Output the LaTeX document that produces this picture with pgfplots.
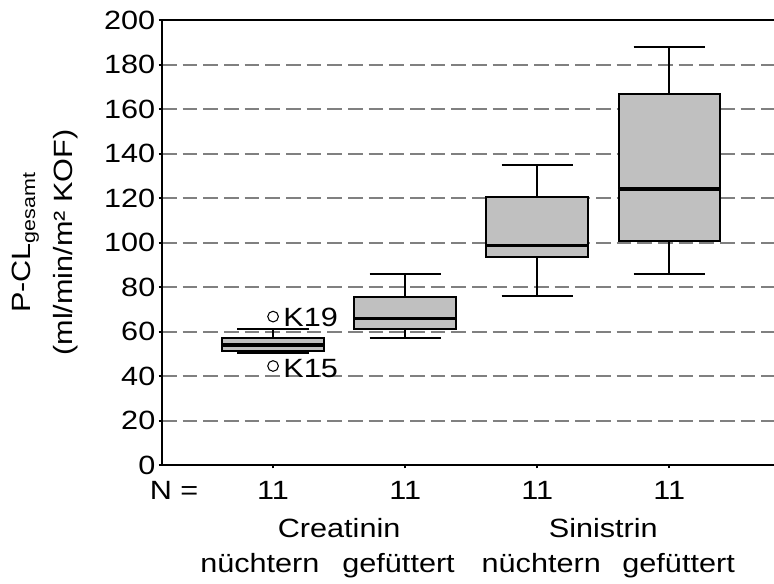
\documentclass[border=0pt]{standalone}
\usepackage{fontspec}
\setmainfont[FakeStretch=1.16]{Liberation Sans}
\usepackage{pgfplots}
\pgfplotsset{compat=1.18}
\usepgfplotslibrary{statistics}
\definecolor{boxgray}{HTML}{C0C0C0}
\definecolor{gridgray}{HTML}{808080}
\newcommand{\bigf}{\fontsize{19.8}{23}\selectfont}
\begin{document}
\begin{tikzpicture}[font=\bigf]
\useasboundingbox (0,0) rectangle (580.5pt,437.25pt);
\begin{axis}[
  at={(121.5pt,88.5pt)}, anchor=south west,
  scale only axis, width=461.25pt, height=333.75pt,
  xmin=0.159, xmax=4.815, ymin=0, ymax=200,
  ytick={0,20,...,200}, xtick={1,2,3,4}, xticklabels=\empty,
  yticklabel={\pgfmathprintnumber{\tick}},
  tick pos=left, tick align=outside, major tick length=2.5pt,
  ymajorgrids, grid style={gridgray, line width=1.5pt, dash pattern=on 11pt off 4.5pt},
  axis line style={line width=1.5pt},
  tick style={black, line width=1.5pt},
  yticklabel style={font=\bigf, xshift=1pt},
  /pgf/number format/assume math mode=true,
  clip=false,
  ylabel={P-CL\textsubscript{gesamt}\\(ml/min/m² KOF)},
  ylabel style={at={(axis description cs:-0.19,0.5)}, anchor=center, align=center, font=\fontsize{19.8}{31}\selectfont},
  boxplot/draw direction=y,
  boxplot/every median/.style={line width=2.5pt},
]
\addplot[boxplot prepared={draw position=1, median=53.9, upper quartile=56.9, lower quartile=51.2, upper whisker=61.1, lower whisker=50.2, box extend=0.77, whisker extend=0.54},
  draw=black, line width=1.5pt, fill=boxgray, mark=o, mark size=4pt, mark options={line width=0.8pt, fill=white, draw=black}]
  coordinates {(1,66.7) (1,44.5)};
\addplot[boxplot prepared={draw position=2, median=65.9, upper quartile=75.6, lower quartile=61.0, upper whisker=85.7, lower whisker=56.9, box extend=0.77, whisker extend=0.54},
  draw=black, line width=1.5pt, fill=boxgray]
  coordinates {};
\addplot[boxplot prepared={draw position=3, median=98.7, upper quartile=120.3, lower quartile=93.6, upper whisker=134.8, lower whisker=76.0, box extend=0.77, whisker extend=0.54},
  draw=black, line width=1.5pt, fill=boxgray]
  coordinates {};
\addplot[boxplot prepared={draw position=4, median=124.0, upper quartile=166.7, lower quartile=100.7, upper whisker=188.0, lower whisker=85.7, box extend=0.77, whisker extend=0.54},
  draw=black, line width=1.5pt, fill=boxgray]
  coordinates {};
\node[anchor=west, inner sep=0pt] at (axis cs:1.076,66.4) {K19};
\node[anchor=west, inner sep=0pt] at (axis cs:1.076,43.3) {K15};
\node[anchor=base] at (axis cs:0.25,-15.7) {N =};
\node[anchor=base] at (axis cs:1,-15.7) {11};
\node[anchor=base] at (axis cs:2,-15.7) {11};
\node[anchor=base] at (axis cs:3,-15.7) {11};
\node[anchor=base] at (axis cs:4,-15.7) {11};
\node[anchor=base] at (axis cs:1.5,-32.4) {Creatinin};
\node[anchor=base] at (axis cs:3.5,-32.4) {Sinistrin};
\node[anchor=base] at (axis cs:0.9,-48.1) {nüchtern};
\node[anchor=base] at (axis cs:1.95,-48.1) {gefüttert};
\node[anchor=base] at (axis cs:3.03,-48.1) {nüchtern};
\node[anchor=base] at (axis cs:4.07,-48.1) {gefüttert};
\end{axis}
\end{tikzpicture}
\end{document}
